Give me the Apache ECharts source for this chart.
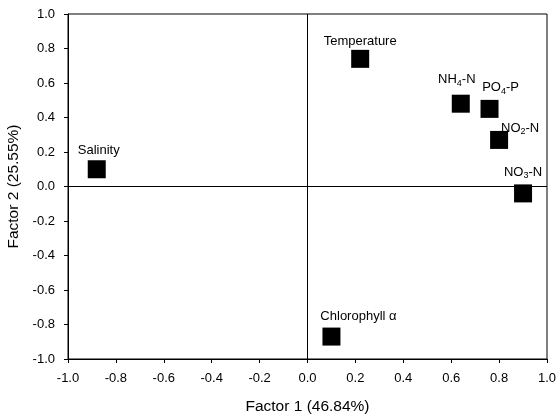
<!DOCTYPE html>
<html><head><meta charset="utf-8">
<script src="https://cdn.jsdelivr.net/npm/echarts@6/dist/echarts.min.js"></script>
<style>html,body{margin:0;padding:0;background:#fff}#c{width:557px;height:416px}</style>
</head><body><div id="c"></div>
<script>
const variables = ['Salinity','Temperature','NH4-N','PO4-P','NO2-N','NO3-N','Chlorophyll α'];
const labelTexts = ['Salinity','Temperature','NH{s|4}-N','PO{s|4}-P','NO{s|2}-N','NO{s|3}-N','Chlorophyll α'];
const factor1 = [-0.88, 0.22, 0.64, 0.76, 0.80, 0.90, 0.10];
const factor2 = [0.10, 0.74, 0.48, 0.45, 0.27, -0.04, -0.87];
const labelOffsets = [[2,-2],[0,0],[-4,-7],[11,-4],[21,5],[0,-4],[27,-3]];

const font = 'Liberation Sans, Arial, sans-serif';
const data = variables.map((v,i)=>({
  name: v,
  value: [factor1[i], factor2[i]],
  label: {show:true, position:'top', distance:0, offset: labelOffsets[i],
    formatter: labelTexts[i], color:'#000', fontFamily: font, fontSize: 13, lineHeight: 16,
    rich: {s: {fontSize: 9, verticalAlign: 'bottom', lineHeight: 10, fontFamily: font, color:'#000'}}}
}));

const chart = echarts.init(document.getElementById('c'), null, {renderer:'canvas'});
chart.setOption({
  backgroundColor: '#fff',
  animation: false,
  grid: {left: 68, right: 10, top: 14, bottom: 57, containLabel: false, outerBoundsMode: 'none',
    show: true, borderColor: '#000', borderWidth: 1, backgroundColor: 'transparent'},
  xAxis: {
    type: 'value', min: -1, max: 1, interval: 0.2,
    name: 'Factor 1 (46.84%)', nameLocation: 'middle', nameGap: 40,
    nameTextStyle: {fontFamily: font, fontSize: 15.5, color: '#000'},
    axisLine: {show: true, onZero: false, lineStyle: {color: '#000', width: 1}},
    axisTick: {show: true, inside: false, length: 4, lineStyle: {color: '#000'}},
    axisLabel: {margin: 13, fontFamily: font, fontSize: 13, color: '#000', formatter: v => v.toFixed(1)},
    splitLine: {show: false}
  },
  yAxis: {
    type: 'value', min: -1, max: 1, interval: 0.2,
    name: 'Factor 2 (25.55%)', nameLocation: 'middle', nameGap: 46, nameRotate: 90,
    nameTextStyle: {fontFamily: font, fontSize: 15.5, color: '#000'},
    axisLine: {show: true, onZero: false, lineStyle: {color: '#000', width: 1}},
    axisTick: {show: true, inside: false, length: 4, lineStyle: {color: '#000'}},
    axisLabel: {margin: 13, fontFamily: font, fontSize: 13, color: '#000', formatter: v => v.toFixed(1)},
    splitLine: {show: false}
  },
  series: [{
    type: 'scatter',
    symbol: 'rect',
    symbolSize: 18,
    itemStyle: {color: '#000', opacity: 1},
    emphasis: {disabled: true},
    data: data,
    markLine: {
      silent: true, symbol: 'none', label: {show: false},
      lineStyle: {color: '#000', width: 1, type: 'solid', opacity: 1},
      data: [{xAxis: 0}, {yAxis: 0}]
    }
  }]
});
</script></body></html>
